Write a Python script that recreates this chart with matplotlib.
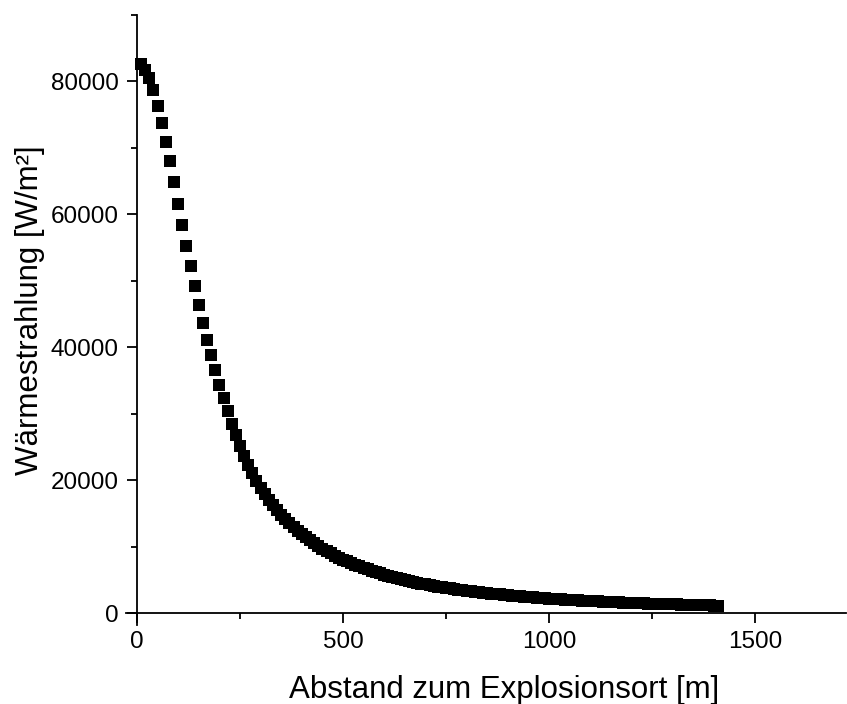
import numpy as np
import matplotlib.pyplot as plt
from matplotlib.ticker import MultipleLocator

plt.rcParams['font.family'] = ['Liberation Sans', 'DejaVu Sans']

# Distance from the explosion site [m], one point every 10 m
distance = np.arange(10, 1420, 10)

# Heat radiation [W/m²]
radiation = [
    82600, 81700, 80400, 78600, 76300, 73750, 70900, 67900, 64750, 61500,
    58350, 55200, 52150, 49200, 46300, 43650, 41130, 38750, 36520, 34230,
    32270, 30360, 28490, 26750, 25130, 23660, 22280, 21030, 19890, 18840,
    17920, 17060, 16260, 15510, 14800, 14140, 13520, 12930, 12380, 11870,
    11380, 10920, 10480, 10070, 9690, 9320, 8970, 8650, 8330, 8040,
    7760, 7490, 7240, 7000, 6770, 6550, 6340, 6140, 5950, 5770,
    5590, 5430, 5270, 5110, 4970, 4830, 4690, 4560, 4440, 4320,
    4210, 4100, 3990, 3890, 3790, 3700, 3610, 3520, 3430, 3350,
    3270, 3200, 3120, 3050, 2990, 2920, 2850, 2790, 2730, 2670,
    2620, 2560, 2510, 2460, 2410, 2360, 2310, 2270, 2220, 2180,
    2140, 2100, 2060, 2020, 1980, 1950, 1910, 1880, 1840, 1810,
    1780, 1750, 1720, 1690, 1660, 1630, 1600, 1580, 1550, 1530,
    1500, 1480, 1450, 1430, 1410, 1390, 1370, 1350, 1320, 1300,
    1290, 1270, 1250, 1230, 1210, 1190, 1180, 1160, 1140, 1130,
    1110,
]

fig = plt.figure(figsize=(8.47, 7.04), dpi=100)
ax = fig.add_axes([0.1486, 0.1122, 0.8498, 0.8672])

ax.plot(distance, radiation, linestyle='none', marker='s', markersize=9,
        color='black', markeredgewidth=0)

ax.set_xlim(-27, 1720)
ax.set_ylim(-1800, 90000)

# Origin style: axes crossing at zero, only left and bottom
for side in ['top', 'right']:
    ax.spines[side].set_visible(False)
ax.spines['left'].set_position(('data', 0))
ax.spines['bottom'].set_position(('data', 0))
for side in ['left', 'bottom']:
    ax.spines[side].set_linewidth(1.3)
ax.spines['left'].set_bounds(-1800, 90000)
ax.spines['bottom'].set_bounds(-27, 1720)

ax.xaxis.set_major_locator(MultipleLocator(500))
ax.xaxis.set_minor_locator(MultipleLocator(250))
ax.yaxis.set_major_locator(MultipleLocator(20000))
ax.yaxis.set_minor_locator(MultipleLocator(10000))
ax.tick_params(which='major', direction='out', length=7.2, width=1.3,
               labelsize=17.5, pad=6)
ax.tick_params(which='minor', direction='out', length=4.3, width=1.3)

fig.text(504 / 847, 1 - 690 / 704, 'Abstand zum Explosionsort [m]',
         ha='center', va='center', fontsize=22.5)
fig.text(30 / 847, 1 - 310 / 704, 'Wärmestrahlung [W/m²]',
         ha='center', va='center', rotation=90, fontsize=22.5)

fig.savefig('out.png', dpi=100)
